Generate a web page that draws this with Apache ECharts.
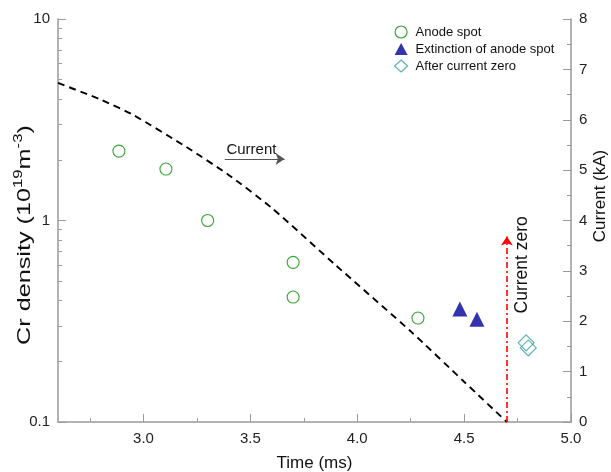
<!DOCTYPE html>
<html><head><meta charset="utf-8">
<script src="https://cdn.jsdelivr.net/npm/echarts@6/dist/echarts.min.js"></script>
<style>html,body{margin:0;padding:0;background:#fff}#c{width:611px;height:472px}</style>
</head><body><div id="c"></div>
<script>
// ---- data ----
const anodeSpot = [[2.885, 2.21], [3.105, 1.80], [3.30, 1.0], [3.70, 0.62], [3.70, 0.417], [4.284, 0.328]];
const extinction = [[4.48, 0.364], [4.56, 0.324]];
const afterZero = [[4.79, 0.247], [4.80, 0.233]];
const currentTime = [2.6, 2.8, 2.95, 3.2, 3.4, 3.6, 3.9, 4.25, 4.5, 4.7];
const currentKA = [6.73, 6.40, 6.10, 5.46, 4.90, 4.25, 3.11, 1.80, 0.80, 0];
const xTicks = [3.0, 3.5, 4.0, 4.5, 5.0];
const xMinorTicks = [2.75, 3.25, 3.75, 4.25, 4.75];
const yMinorTicks = [0.2, 0.3, 0.4, 0.5, 0.6, 0.7, 0.8, 0.9, 2, 3, 4, 5, 6, 7, 8, 9];
const currentZero = 4.7;
const currentZeroArrowTop = 3.68;
const legendNames = ['Anode spot', 'Extinction of anode spot', 'After current zero'];

const FONT = 'Liberation Sans, Arial, sans-serif';
const AX = '#9a9a9a';
const GREEN = '#3aa53a', NAVY = '#000099', TEAL = '#2e9e9e';
const chart = echarts.init(document.getElementById('c'), null, {renderer: 'canvas'});

const option = {
  backgroundColor: '#fff',
  animation: false,
  textStyle: {fontFamily: FONT},
  grid: {left: 58, right: 40, top: 19, bottom: 50, outerBoundsMode: 'none', containLabel: false},
  legend: {
    orient: 'vertical', left: 389, top: 20, itemWidth: 13, itemHeight: 12, itemGap: 3,
    data: [
      {name: legendNames[0], itemStyle: {borderWidth: 1.2}},
      {name: legendNames[1]},
      {name: legendNames[2], itemStyle: {borderWidth: 1.2}}
    ],
    textStyle: {fontSize: 13, color: '#111', fontFamily: FONT, lineHeight: 14, padding: [0, 0, 0, 3]}
  },
  xAxis: [{
    type: 'value', min: 2.6, max: 5.0, position: 'bottom',
    axisLine: {lineStyle: {color: AX, width: 1.5}},
    axisTick: {inside: true, length: 8, customValues: xTicks, lineStyle: {color: AX}},
    axisLabel: {customValues: xTicks, formatter: v => v.toFixed(1), fontSize: 15, color: '#222', margin: 9},
    splitLine: {show: false},
    name: 'Time (ms)', nameLocation: 'middle', nameGap: 33,
    nameTextStyle: {fontSize: 17, color: '#111'}
  }, {
    type: 'value', min: 2.6, max: 5.0, position: 'bottom',
    axisLine: {show: false},
    axisTick: {inside: true, length: 4, customValues: xMinorTicks, lineStyle: {color: AX}},
    axisLabel: {show: false}, splitLine: {show: false}
  }],
  yAxis: [{
    type: 'log', logBase: 10, min: 0.1, max: 10, position: 'left',
    axisLine: {show: true, lineStyle: {color: AX, width: 1.5}},
    axisTick: {show: true, inside: true, length: 8, lineStyle: {color: AX}},
    axisLabel: {fontSize: 15, color: '#222', margin: 8, formatter: v => String(parseFloat(Number(v).toPrecision(3)))},
    splitLine: {show: false}
  }, {
    type: 'value', min: 0, max: 8, interval: 1, position: 'right',
    axisLine: {show: true, lineStyle: {color: AX, width: 1.5}},
    axisTick: {show: true, inside: true, length: 8, lineStyle: {color: AX}},
    minorTick: {show: true, splitNumber: 2, length: 4, lineStyle: {color: AX}},
    axisLabel: {fontSize: 15, color: '#222', margin: 8},
    splitLine: {show: false}
  }, {
    type: 'log', logBase: 10, min: 0.1, max: 10, position: 'left',
    axisLine: {show: false},
    axisTick: {show: true, inside: true, length: 4, customValues: yMinorTicks, lineStyle: {color: AX}},
    axisLabel: {show: false}, splitLine: {show: false}
  }],
  graphic: [{
    type: 'text', x: 25, y: 235, rotation: Math.PI / 2, scaleX: 1.4, silent: true,
    style: {
      text: 'Cr density (10{s|19}m{s|-3})', align: 'center', verticalAlign: 'middle',
      fontSize: 18, fontFamily: FONT, fill: '#111', lineHeight: 24,
      rich: {s: {fontSize: 12, lineHeight: 12, verticalAlign: 'top', fontFamily: FONT, fill: '#111'}}
    }
  }, {
    type: 'text', x: 600, y: 196, rotation: Math.PI / 2, silent: true,
    style: {text: 'Current (kA)', align: 'center', verticalAlign: 'middle', fontSize: 17, fontFamily: FONT, fill: '#111'}
  }],
  series: [{
    name: 'Current', type: 'line', xAxisIndex: 0, yAxisIndex: 1,
    smooth: 0.2, showSymbol: false, symbol: 'none',
    data: currentTime.map((t, i) => [t, currentKA[i]]),
    lineStyle: {color: '#000', width: 1.9, type: [7, 5]},
    z: 2,
    markLine: {
      silent: true, symbol: ['none', 'arrow'], symbolSize: 9,
      label: {show: false},
      data: [
        [{coord: [currentZero, 0], lineStyle: {color: '#ff0000', width: 1.6, type: [6, 3, 2, 3]}},
         {coord: [currentZero, currentZeroArrowTop]}],
        [{coord: [3.38, 5.22], lineStyle: {color: '#555', width: 1.2, type: 'solid'}},
         {coord: [3.66, 5.22]}]
      ]
    },
    markPoint: {
      silent: true, symbol: 'circle', symbolSize: 0,
      data: [
        {coord: [3.505, 5.40], label: {show: true, position: 'inside', formatter: 'Current', fontSize: 15, color: '#111', fontFamily: FONT}},
        {coord: [4.773, 3.12], label: {show: true, position: 'inside', formatter: 'Current zero', rotate: 90, fontSize: 17.5, color: '#111', fontFamily: FONT}}
      ]
    }
  }, {
    name: legendNames[0], type: 'scatter', xAxisIndex: 0, yAxisIndex: 0,
    symbol: 'circle', symbolSize: 12, data: anodeSpot,
    itemStyle: {color: '#ffffff', borderColor: GREEN, borderWidth: 1.1, opacity: 1}, z: 3
  }, {
    name: legendNames[1], type: 'scatter', xAxisIndex: 0, yAxisIndex: 0,
    symbol: 'triangle', symbolSize: 15, data: extinction,
    itemStyle: {color: NAVY}, z: 3
  }, {
    name: legendNames[2], type: 'scatter', xAxisIndex: 0, yAxisIndex: 0,
    symbol: 'diamond', symbolSize: 16, data: afterZero,
    itemStyle: {color: 'rgba(255,255,255,0)', borderColor: TEAL, borderWidth: 1.1}, z: 3
  }]
};
chart.setOption(option);
</script>
</body></html>
